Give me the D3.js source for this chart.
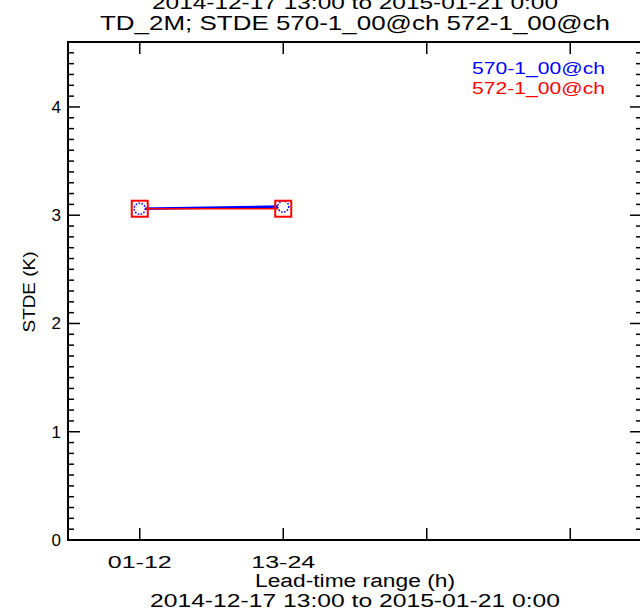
<!DOCTYPE html>
<html><head><meta charset="utf-8">
<script src="https://cdn.jsdelivr.net/npm/d3@7"></script>
<style>body{margin:0;background:#fff;}svg{display:block;}text{font-family:"Liberation Sans",sans-serif;}</style>
</head><body><svg id="c" width="640" height="613"></svg>
<script>
const categories = ["01-12", "13-24", "", ""];
const seriesNames = ["570-1_00@ch", "572-1_00@ch"];
const series570 = [3.06, 3.08];
const series572 = [3.06, 3.06];
const yTicks = [0, 1, 2, 3, 4];
const titleLines = ["2014-12-17 13:00 to 2015-01-21  0:00", "TD_2M; STDE 570-1_00@ch 572-1_00@ch"];
const xLabel = "Lead-time range (h)";
const dateLabel = "2014-12-17 13:00 to 2015-01-21  0:00";
const yLabel = "STDE (K)";

const svg = d3.select("#c");
const L = 68, R = 642, T = 42, B = 540;
const x = d3.scaleLinear().domain([0, categories.length]).range([L, R]);
const y = d3.scaleLinear().domain([0, 4.6]).range([B, T]);
const g = svg.append("g");

// frame
g.append("rect").attr("x", L).attr("y", T).attr("width", R - L).attr("height", B - T)
  .attr("fill", "none").attr("stroke", "#000").attr("stroke-width", 2);

// y minor/major ticks left & right
const minor = d3.range(0, 46).map(i => i / 10);
minor.forEach(v => {
  const major = Math.abs(v - Math.round(v)) < 1e-9;
  const len = major ? 12 : 6;
  g.append("line").attr("x1", L).attr("x2", L + len).attr("y1", y(v)).attr("y2", y(v)).attr("stroke", "#000").attr("stroke-width", 1.5);
  g.append("line").attr("x1", R).attr("x2", R - len).attr("y1", y(v)).attr("y2", y(v)).attr("stroke", "#000").attr("stroke-width", 1.5);
});
yTicks.forEach(v => {
  g.append("text").attr("x", 61).attr("y", y(v) + 6).attr("text-anchor", "end")
    .attr("font-size", 17).text(v);
});

// x ticks top & bottom
categories.forEach((c, i) => {
  const xv = x(i + 0.5);
  g.append("line").attr("x1", xv).attr("x2", xv).attr("y1", B).attr("y2", B - 12).attr("stroke", "#000").attr("stroke-width", 1.5);
  g.append("line").attr("x1", xv).attr("x2", xv).attr("y1", T).attr("y2", T + 12).attr("stroke", "#000").attr("stroke-width", 1.5);
  if (c) g.append("text").attr("x", xv).attr("y", 568).attr("text-anchor", "middle")
    .attr("font-size", 17).attr("textLength", 64).attr("lengthAdjust", "spacingAndGlyphs").text(c);
});

// titles
const cx = (L + R) / 2;
svg.append("text").attr("x", cx).attr("y", 9).attr("text-anchor", "middle").attr("font-size", 19)
  .attr("textLength", 406).attr("lengthAdjust", "spacingAndGlyphs").text(titleLines[0]);
svg.append("text").attr("x", cx).attr("y", 30).attr("text-anchor", "middle").attr("font-size", 21)
  .attr("textLength", 510).attr("lengthAdjust", "spacingAndGlyphs").text(titleLines[1]);
svg.append("text").attr("x", cx).attr("y", 587).attr("text-anchor", "middle").attr("font-size", 18)
  .attr("textLength", 200).attr("lengthAdjust", "spacingAndGlyphs").text(xLabel);
svg.append("text").attr("x", cx).attr("y", 607).attr("text-anchor", "middle").attr("font-size", 18)
  .attr("textLength", 410).attr("lengthAdjust", "spacingAndGlyphs").text(dateLabel);
svg.append("text").attr("transform", "translate(35,292) rotate(-90)").attr("text-anchor", "middle")
  .attr("font-size", 17).attr("textLength", 81).attr("lengthAdjust", "spacingAndGlyphs").text(yLabel);

// legend
const colors = ["#0000ff", "#ff0000"];
seriesNames.forEach((n, i) => {
  svg.append("text").attr("x", 472).attr("y", 74 + i * 20).attr("fill", colors[i]).attr("font-size", 16)
    .attr("textLength", 133).attr("lengthAdjust", "spacingAndGlyphs").text(n);
});

// data
const pts = (arr) => arr.map((v, i) => [x(i + 0.5), y(v)]);
const line = d3.line();
const p570 = pts(series570), p572 = pts(series572);
svg.append("path").attr("d", line(p570)).attr("fill", "none").attr("stroke", colors[0]).attr("stroke-width", 2.5);
svg.append("path").attr("d", line(p572)).attr("fill", "none").attr("stroke", colors[1]).attr("stroke-width", 1.5);
p570.forEach(p => svg.append("circle").attr("cx", p[0]).attr("cy", p[1]).attr("r", 5.5)
  .attr("fill", "#fff").attr("stroke", colors[0]).attr("stroke-width", 1.5).attr("stroke-dasharray", "1.5,1.5"));
p572.forEach(p => svg.append("rect").attr("x", p[0] - 8).attr("y", p[1] - 8).attr("width", 16).attr("height", 16)
  .attr("fill", "none").attr("stroke", colors[1]).attr("stroke-width", 2));
</script></body></html>
